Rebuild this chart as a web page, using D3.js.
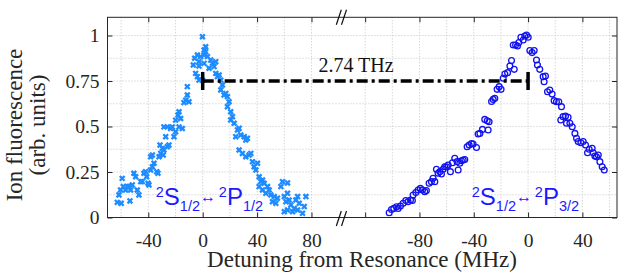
<!DOCTYPE html>
<html>
<head>
<meta charset="utf-8">
<script src="https://cdn.jsdelivr.net/npm/d3@7"></script>
<style>
body{margin:0;background:#fff;}
svg{display:block;}
</style>
</head>
<body>
<svg id="chart" width="618" height="272"></svg>
<script>
// S1/2 <-> P1/2 scan (crosses, left panel), detuning in MHz
var p12Detuning = [-62.8,-59.9,-53.5,-61.6,-60.4,-58.4,-59.2,-56.7,-55.5,-54.3,-53.0,-51.8,-50.6,-49.3,-48.1,-46.9,-45.6,-44.4,-43.2,-42.0,
  -41.2,-40.2,-39.5,-38.3,-37.0,-35.8,-33.8,-32.9,-38.3,-37.0,-32.1,-31.4,-29.7,-28.5,-26.0,-24.8,-29.0,-30.9,-27.2,-28.5,
  -26.0,-23.6,-22.4,-21.1,-19.9,-17.4,-15.0,-19.9,-18.2,-17.4,-16.2,-13.8,-12.5,-11.3,-10.1,-11.3,-6.9,-5.9,-3.9,-2.7,
  -1.5,1.0,-5.2,-3.9,-2.7,-0.2,-2.7,-0.2,1.0,2.2,1.0,2.2,3.5,5.9,7.1,8.4,9.6,4.7,9.6,10.8,
  12.1,13.3,14.5,13.3,15.7,17.0,18.2,19.4,18.2,20.6,21.9,20.6,23.1,25.6,26.8,24.3,28.0,30.5,31.7,32.9,
  26.8,29.2,31.7,34.1,35.4,36.6,37.8,39.1,40.3,41.5,42.7,44.0,45.2,47.7,41.5,44.0,46.4,48.9,50.1,52.6,
  51.3,53.8,55.0,57.5,58.7,60.0,61.2,62.4,63.6,64.8,60.0,62.4,66.1,67.3,68.5,69.8,71.0,73.4,74.7,75.9,
  69.8,62.4];
var p12Signal = [0.083,0.078,0.091,0.124,0.151,0.170,0.215,0.151,0.170,0.170,0.151,0.179,0.243,0.224,0.151,0.124,0.197,0.197,0.243,0.252,
  0.224,0.188,0.179,0.261,0.279,0.298,0.252,0.243,0.334,0.343,0.334,0.398,0.380,0.371,0.389,0.398,0.343,0.352,0.444,0.498,
  0.498,0.489,0.498,0.444,0.471,0.498,0.489,0.535,0.563,0.581,0.544,0.631,0.645,0.673,0.636,0.719,0.838,0.875,0.893,0.856,
  0.884,0.847,0.792,0.774,0.755,0.755,0.832,0.993,0.920,0.938,0.893,0.911,0.884,0.865,0.847,0.829,0.856,0.820,0.792,0.774,
  0.783,0.755,0.728,0.701,0.673,0.682,0.664,0.636,0.609,0.581,0.554,0.536,0.518,0.481,0.490,0.444,0.453,0.444,0.426,0.435,
  0.371,0.352,0.334,0.343,0.352,0.307,0.279,0.261,0.298,0.224,0.197,0.206,0.188,0.170,0.170,0.151,0.133,0.151,0.124,0.115,
  0.087,0.078,0.106,0.170,0.197,0.115,0.087,0.133,0.096,0.069,0.032,0.041,0.032,0.050,0.096,0.115,0.078,0.023,0.060,0.115,
  0.041,0.190];

// S1/2 <-> P3/2 scan (circles, right panel)
var p32Detuning = [-102.3,-100.6,-98.9,-96.9,-95.7,-94.0,-92.0,-90.1,-88.4,-86.6,-85.2,-84.7,-82.7,-81.0,-79.3,-77.8,-76.1,-74.9,-72.9,-71.2,
  -70.0,-68.7,-66.3,-67.5,-65.0,-63.8,-62.6,-61.4,-60.1,-58.9,-57.2,-55.7,-54.0,-52.3,-51.5,-50.3,-49.1,-47.8,-46.6,-44.9,
  -43.4,-41.7,-40.5,-38.0,-36.8,-35.5,-33.6,-31.9,-30.1,-28.7,-29.4,-26.9,-25.7,-24.5,-22.8,-21.3,-19.9,-18.3,-17.1,-15.1,
  -13.4,-12.2,-10.2,-10.9,-9.2,-7.8,-6.8,-5.3,-3.6,-2.4,-1.1,0.1,1.3,3.0,4.5,6.2,6.9,8.6,11.1,12.8,
  11.8,14.3,16.0,17.7,19.2,20.9,22.6,24.6,24.1,25.8,27.6,29.5,28.3,30.8,32.5,34.5,35.7,36.9,38.9,40.6,
  42.3,43.8,45.0,47.2,48.0,49.2,50.4,51.7,52.9,54.6,56.1];
var p32Signal = [0.026,0.044,0.050,0.059,0.050,0.063,0.078,0.093,0.087,0.096,0.093,0.124,0.137,0.151,0.160,0.151,0.142,0.148,0.188,0.197,
  0.215,0.197,0.243,0.265,0.252,0.239,0.265,0.279,0.279,0.288,0.252,0.301,0.325,0.307,0.261,0.298,0.312,0.316,0.319,0.389,
  0.398,0.407,0.404,0.385,0.459,0.462,0.484,0.539,0.532,0.526,0.481,0.637,0.649,0.655,0.704,0.719,0.704,0.765,0.788,0.796,
  0.832,0.862,0.814,0.948,0.948,0.942,0.961,0.990,0.975,0.997,1.003,0.990,0.917,0.906,0.917,0.865,0.838,0.814,0.774,0.777,
  0.746,0.691,0.700,0.678,0.642,0.636,0.636,0.609,0.536,0.554,0.558,0.551,0.518,0.518,0.499,0.462,0.435,0.417,0.411,0.417,
  0.398,0.356,0.375,0.380,0.356,0.338,0.334,0.343,0.307,0.279,0.261];

var yTicks = [0, 0.25, 0.5, 0.75, 1];
var yTickLabels = ["0", "0.25", "0.5", "0.75", "1"];
var leftTicks = [-40, 0, 40, 80];
var rightTicks = [-120, -80, -40, 0, 40];
var rightTickLabels = ["", "-80", "-40", "0", "40"];
var leftGrid = [-60, -40, -20, 0, 20, 40, 60, 80];
var rightGrid = [-120, -100, -80, -60, -40, -20, 0, 20, 40, 60];
var splitLabel = "2.74 THz";

var svg = d3.select("#chart");
var plotL = 107.5, plotR = 617, plotT = 17.3, plotB = 217.5, brk = 341.4;
var ink = "#262626";
var serif = "'Liberation Serif','Times New Roman',serif";

var xL = d3.scaleLinear().domain([-70, 102]).range([plotL, brk]);
var xR = d3.scaleLinear().domain([-137.5, 65.5]).range([brk, plotR]);
var y = d3.scaleLinear().domain([0, 1.1]).range([plotB, plotT]);

// grid
var grid = svg.append("g").attr("stroke", "#c4c4c4").attr("stroke-width", 1).attr("stroke-dasharray", "1,2");
grid.selectAll(".gl").data(leftGrid).enter().append("line")
  .attr("x1", d => xL(d)).attr("x2", d => xL(d)).attr("y1", plotT).attr("y2", plotB);
grid.selectAll(".gr").data(rightGrid).enter().append("line")
  .attr("x1", d => xR(d)).attr("x2", d => xR(d)).attr("y1", plotT).attr("y2", plotB);
grid.selectAll(".gh").data(d3.range(1, 9).map(i => i * 0.125)).enter().append("line")
  .attr("x1", plotL).attr("x2", plotR).attr("y1", d => y(d)).attr("y2", d => y(d));

// axes, ticks pointing inwards like matlab
function styleAxis(g) {
  g.select(".domain").remove();
  g.selectAll("line").attr("stroke", ink);
  g.selectAll("text").attr("fill", ink).attr("font-family", serif).attr("font-size", 19.5);
}
svg.append("g").attr("transform", "translate(0," + plotB + ")")
  .call(d3.axisBottom(xL).tickValues(leftTicks).tickSize(-5).tickPadding(15.5).tickFormat(d => d))
  .call(styleAxis);
svg.append("g").attr("transform", "translate(0," + plotB + ")")
  .call(d3.axisBottom(xR).tickValues(rightTicks).tickSize(-5).tickPadding(15.5).tickFormat((d, i) => rightTickLabels[i]))
  .call(styleAxis);
svg.append("g").attr("transform", "translate(0," + plotT + ")")
  .call(d3.axisTop(xL).tickValues(leftTicks).tickSize(-5).tickFormat(""))
  .call(styleAxis);
svg.append("g").attr("transform", "translate(0," + plotT + ")")
  .call(d3.axisTop(xR).tickValues(rightTicks).tickSize(-5).tickFormat(""))
  .call(styleAxis);
svg.append("g").attr("transform", "translate(" + plotL + ",0)")
  .call(d3.axisLeft(y).tickValues(yTicks).tickSize(-5).tickPadding(8).tickFormat((d, i) => yTickLabels[i]))
  .call(styleAxis);
svg.append("g").attr("transform", "translate(" + plotR + ",0)")
  .call(d3.axisRight(y).tickValues(yTicks).tickSize(-5).tickFormat(""))
  .call(styleAxis);

svg.append("rect").attr("x", plotL).attr("y", plotT).attr("width", plotR - plotL).attr("height", plotB - plotT)
  .attr("fill", "none").attr("stroke", ink).attr("stroke-width", 1);

// axis break marks
[plotT, plotB + 1].forEach(function (yy) {
  [-2.6, 2.6].forEach(function (o) {
    svg.append("line").attr("x1", brk + o - 2.5).attr("y1", yy + 7.5)
      .attr("x2", brk + o + 2.5).attr("y2", yy - 7.5)
      .attr("stroke", "#111").attr("stroke-width", 1.2);
  });
});

// data
var p12 = p12Detuning.map((d, i) => [d, p12Signal[i]]);
var p32 = p32Detuning.map((d, i) => [d, p32Signal[i]]);

svg.append("g").selectAll("path").data(p12).enter().append("path")
  .attr("transform", d => "translate(" + xL(d[0]) + "," + y(d[1]) + ")")
  .attr("d", "M-2.4,-2.4L2.4,2.4M-2.4,2.4L2.4,-2.4")
  .attr("stroke", "#1e8cff").attr("stroke-width", 2.3).attr("fill", "none");

svg.append("g").selectAll("circle").data(p32).enter().append("circle")
  .attr("cx", d => xR(d[0])).attr("cy", d => y(d[1])).attr("r", 2.9)
  .attr("fill", "none").attr("stroke", "#1212f0").attr("stroke-width", 1.3);

// splitting marker
var ym = y(0.75);
svg.append("line").attr("x1", xL(0)).attr("x2", xR(0)).attr("y1", ym).attr("y2", ym)
  .attr("stroke", "#000").attr("stroke-width", 3.3).attr("stroke-dasharray", "11,4,3,4");
[xL(0), xR(0)].forEach(function (xx) {
  svg.append("line").attr("x1", xx).attr("x2", xx).attr("y1", ym - 9).attr("y2", ym + 9)
    .attr("stroke", "#000").attr("stroke-width", 3.5);
});
svg.append("text").attr("x", 356).attr("y", 72).attr("text-anchor", "middle")
  .attr("font-family", serif).attr("font-size", 20).attr("fill", "#111").text(splitLabel);

// transition labels
function transition(x0, upper) {
  var t = svg.append("text").attr("x", x0).attr("fill", "#1a1aff")
    .attr("font-family", "'Liberation Sans',Arial,sans-serif");
  var parts = [["2", 14.5, 196.5], ["S", 24, 205], ["1/2", 14.5, 210.5], ["\u2194", 16, 202], ["\u2009", 14, 202],
               ["2", 14.5, 196.5], ["P", 24, 205], [upper, 14.5, 210.5]];
  parts.forEach(function (p) {
    t.append("tspan").attr("y", p[2]).attr("font-size", p[1]).text(p[0]);
  });
}
transition(xL(-34.5), "1/2");
transition(xR(-41.5), "3/2");

// axis labels
svg.append("text").attr("x", 362).attr("y", 267).attr("text-anchor", "middle")
  .attr("font-family", serif).attr("font-size", 23).attr("fill", ink)
  .text("Detuning from Resonance (MHz)");
var yl = svg.append("g").attr("transform", "translate(0,125) rotate(-90)");
yl.append("text").attr("x", 0).attr("y", 22).attr("text-anchor", "middle")
  .attr("font-family", serif).attr("font-size", 23).attr("fill", ink).text("Ion fluorescence");
yl.append("text").attr("x", 0).attr("y", 45).attr("text-anchor", "middle")
  .attr("font-family", serif).attr("font-size", 23).attr("fill", ink).text("(arb. units)");
</script>
</body>
</html>
